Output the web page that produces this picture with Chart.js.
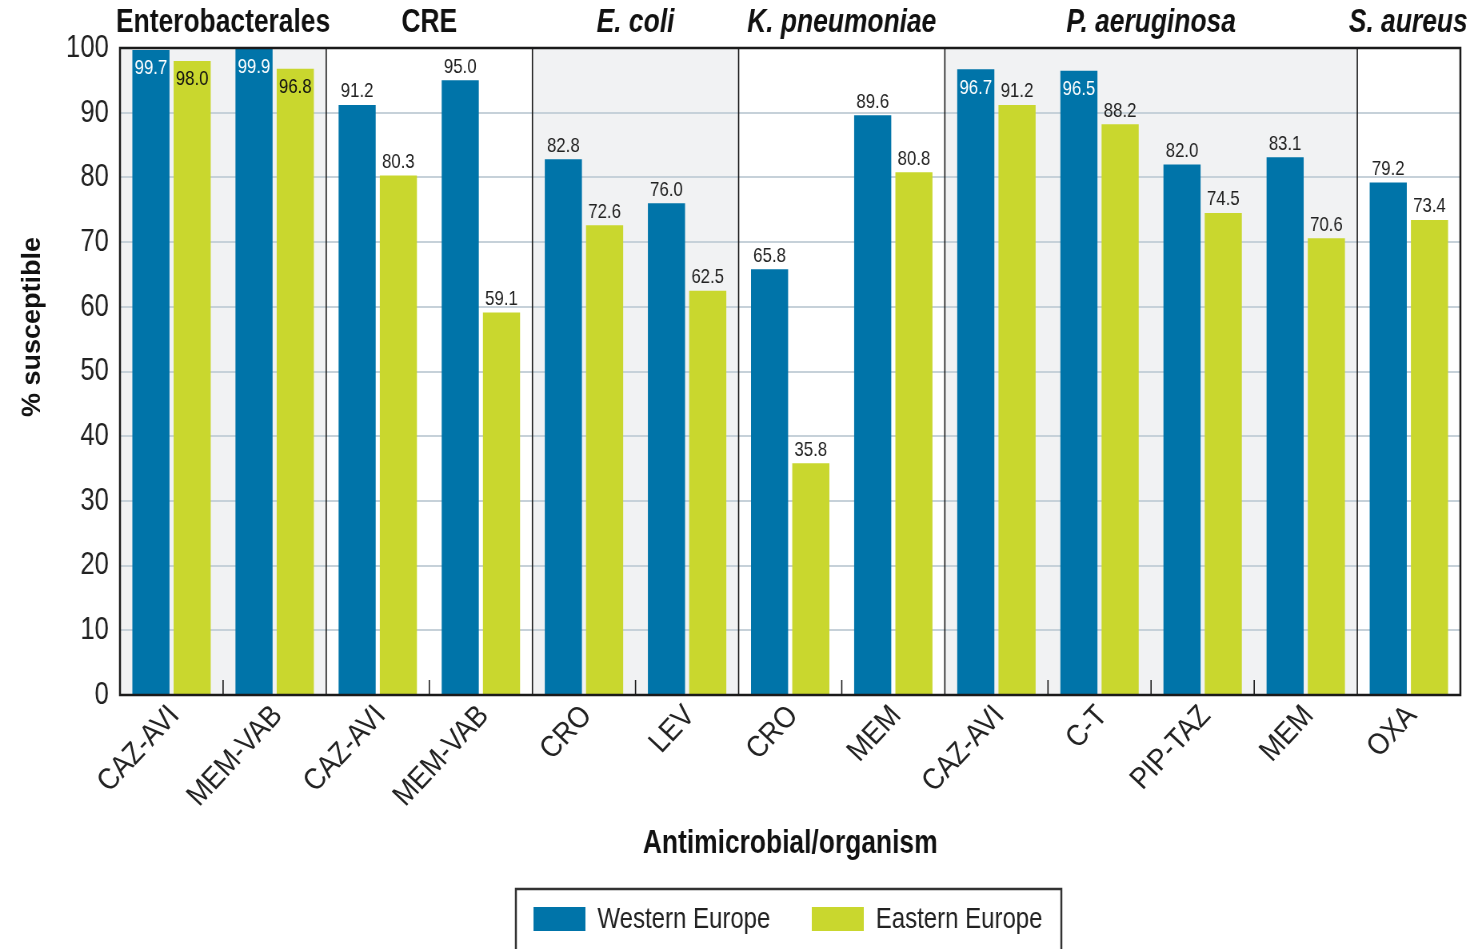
<!DOCTYPE html>
<html>
<head>
<meta charset="utf-8">
<title>% susceptible by region</title>
<script src="https://cdn.jsdelivr.net/npm/chart.js@4"></script>
<style>
  html, body { margin: 0; padding: 0; background: #fff; overflow: hidden; }
  /* the original artwork uses a condensed face; draw wide and squeeze horizontally */
  #wrap { width: 1843px; height: 949px; position: relative; transform: scaleX(0.79978); transform-origin: 0 0; }
</style>
</head>
<body>
<div id="wrap"><canvas id="chart"></canvas></div>
<script>
/* ── data ─────────────────────────────────────────────── */
const categories = ["CAZ-AVI", "MEM-VAB", "CAZ-AVI", "MEM-VAB", "CRO", "LEV", "CRO", "MEM",
                    "CAZ-AVI", "C-T", "PIP-TAZ", "MEM", "OXA"];
const westernEurope = [99.7, 99.9, 91.2, 95.0, 82.8, 76.0, 65.8, 89.6, 96.7, 96.5, 82.0, 83.1, 79.2];
const easternEurope = [98.0, 96.8, 80.3, 59.1, 72.6, 62.5, 35.8, 80.8, 91.2, 88.2, 74.5, 70.6, 73.4];
const groupNames  = ["Enterobacterales", "CRE", "E. coli", "K. pneumoniae", "P. aeruginosa", "S. aureus"];
const groupSizes  = [2, 2, 2, 2, 4, 1];
const groupItalic = [false, false, true, true, true, true];
const yTicks = [0, 10, 20, 30, 40, 50, 60, 70, 80, 90, 100];

/* ── look ─────────────────────────────────────────────── */
const SQUEEZE = 0.79978;   // must match the css scaleX above
const FONT = "'Liberation Sans', Arial, Helvetica, sans-serif";
const BLUE = "#0074a9";
const GREEN = "#c9d72e";
const SHADE = "#f1f2f3";
const INK = "#222222";

const groupPlugin = {
  id: "groups",
  beforeDraw(chart) {
    const { ctx, chartArea: a, scales: { x } } = chart;
    const half = (a.right - a.left) / categories.length / 2;
    let start = 0;
    ctx.save();
    ctx.fillStyle = SHADE;
    groupSizes.forEach((n, g) => {
      if (g % 2 === 0) {
        const x0 = x.getPixelForValue(start) - half;
        const x1 = x.getPixelForValue(start + n - 1) + half;
        ctx.fillRect(x0, a.top, x1 - x0, a.bottom - a.top);
      }
      start += n;
    });
    ctx.restore();
  },
  afterDatasetsDraw(chart) {
    const { ctx, chartArea: a, scales: { x } } = chart;
    const half = (a.right - a.left) / categories.length / 2;
    ctx.save();

    // value labels
    ctx.font = "21px " + FONT;
    ctx.textAlign = "center";
    chart.data.datasets.forEach((ds, d) => {
      chart.getDatasetMeta(d).data.forEach((bar, i) => {
        const v = ds.data[i];
        const txt = v.toFixed(1);
        if (v > 96) {
          ctx.fillStyle = d === 0 ? "#ffffff" : "#111111";
          ctx.textBaseline = "top";
          ctx.fillText(txt, bar.x, bar.y + 8);
        } else {
          ctx.fillStyle = INK;
          ctx.textBaseline = "bottom";
          ctx.fillText(txt, bar.x, bar.y - 3);
        }
      });
    });

    // rotated category labels (kept unsheared despite the squeeze)
    ctx.font = "30px " + FONT;
    ctx.fillStyle = INK;
    ctx.textAlign = "right";
    ctx.textBaseline = "middle";
    chart.data.labels.forEach((lab, i) => {
      ctx.save();
      ctx.translate(x.getPixelForValue(i) + 3 / SQUEEZE, a.bottom + 16);
      ctx.scale(1 / SQUEEZE, 1);
      ctx.rotate(-47 * Math.PI / 180);
      ctx.scale(0.9, 1);
      ctx.fillText(lab, 0, 0);
      ctx.restore();
    });

    // group separators, inner ticks, titles
    ctx.strokeStyle = "#1a1a1a";
    ctx.lineWidth = 1.6;
    let start = 0;
    groupSizes.forEach((n, g) => {
      const x0 = x.getPixelForValue(start) - half;
      const x1 = x.getPixelForValue(start + n - 1) + half;
      if (g > 0) {
        ctx.beginPath(); ctx.moveTo(x0, a.top); ctx.lineTo(x0, a.bottom); ctx.stroke();
      }
      for (let k = 1; k < n; k++) {
        const tx = x.getPixelForValue(start + k) - half;
        ctx.beginPath(); ctx.moveTo(tx, a.bottom - 15); ctx.lineTo(tx, a.bottom); ctx.stroke();
      }
      ctx.fillStyle = "#111111";
      ctx.font = (groupItalic[g] ? "italic " : "") + "bold 33px " + FONT;
      ctx.textAlign = "center";
      ctx.textBaseline = "middle";
      let cx = (x0 + x1) / 2;
      const w = ctx.measureText(groupNames[g]).width;
      if (cx + w / 2 > chart.width - 8) cx = chart.width - 8 - w / 2;
      ctx.fillText(groupNames[g], cx, 23);
      start += n;
    });

    // frame
    ctx.lineWidth = 2.5;
    ctx.strokeStyle = "#1a1a1a";
    ctx.strokeRect(a.left, a.top, a.right - a.left, a.bottom - a.top);

    // y title
    ctx.save();
    ctx.translate(41, 327);
    ctx.scale(1 / SQUEEZE, 1);
    ctx.rotate(-Math.PI / 2);
    ctx.font = "bold 27px " + FONT;
    ctx.fillStyle = "#111111";
    ctx.textAlign = "center";
    ctx.textBaseline = "middle";
    ctx.fillText("% susceptible", 0, 0);
    ctx.restore();

    // legend
    ctx.lineWidth = 2.5;
    ctx.strokeStyle = "#333333";
    ctx.strokeRect(645, 889, 682, 80);
    const lx = [667, 1015];
    ctx.font = "30px " + FONT;
    ctx.textAlign = "left";
    ctx.textBaseline = "middle";
    chart.data.datasets.forEach((ds, d) => {
      ctx.fillStyle = ds.backgroundColor;
      ctx.fillRect(lx[d], 907, 65, 24);
      ctx.fillStyle = INK;
      ctx.fillText(ds.label, lx[d] + 80, 920);
    });
    ctx.restore();
  },
};

new Chart(document.getElementById("chart"), {
  type: "bar",
  data: {
    labels: categories,
    datasets: [
      { label: "Western Europe", data: westernEurope, backgroundColor: BLUE },
      { label: "Eastern Europe", data: easternEurope, backgroundColor: GREEN },
    ],
  },
  options: {
    responsive: true,
    maintainAspectRatio: false,
    animation: false,
    categoryPercentage: 0.8,
    barPercentage: 0.9,
    layout: { padding: { top: 48, right: 17, bottom: 79, left: 0 } },
    plugins: { legend: { display: false }, tooltip: { enabled: false } },
    scales: {
      x: {
        grid: { display: false },
        border: { display: false },
        ticks: { display: false },
        title: {
          display: true,
          text: "Antimicrobial/organism",
          font: { family: FONT, size: 33, weight: "bold" },
          color: "#111111",
          padding: { top: 0, bottom: 6 },
        },
        afterFit: (s) => { s.height = 175; },
      },
      y: {
        min: 0,
        max: 100,
        afterBuildTicks: (s) => { s.ticks = yTicks.map((v) => ({ value: v })); },
        grid: { color: "#c6d1d9", lineWidth: 2, drawTicks: false },
        border: { display: false },
        ticks: {
          font: { family: FONT, size: 32 },
          color: INK,
          padding: 14,
        },
        afterFit: (s) => { s.width = 150; },
      },
    },
  },
  plugins: [groupPlugin],
});
</script>
</body>
</html>
